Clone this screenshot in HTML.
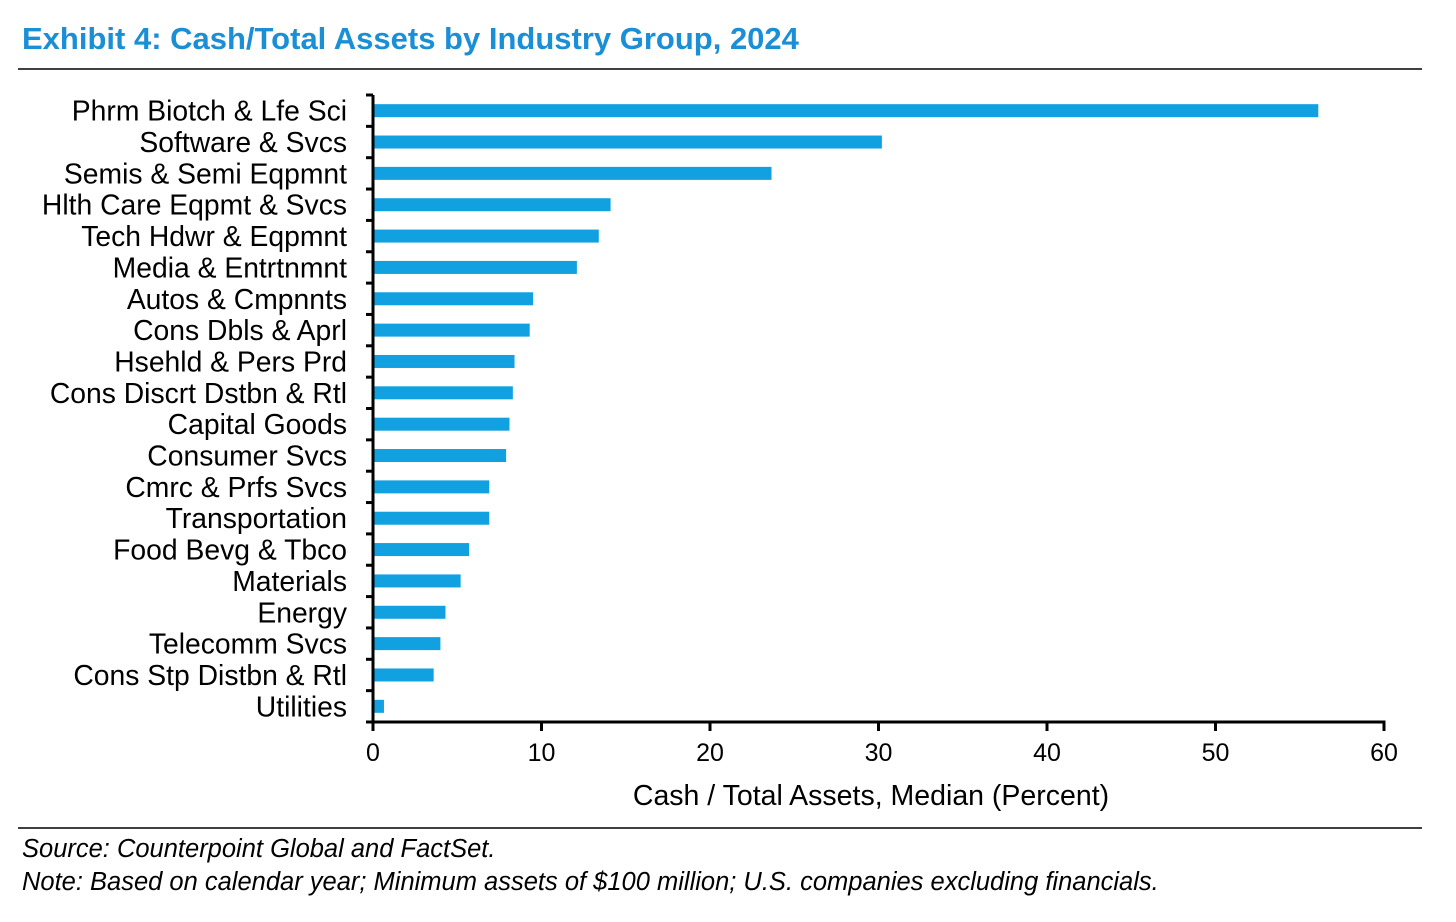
<!DOCTYPE html>
<html><head><meta charset="utf-8"><style>
body{margin:0;background:#fff;width:1456px;height:917px;overflow:hidden;font-family:"Liberation Sans",Arial,sans-serif}
</style></head><body>
<svg width="1456" height="917" xmlns="http://www.w3.org/2000/svg">
<text x="22" y="49" font-size="31" font-weight="bold" fill="#1a8fd6" font-family="Liberation Sans, sans-serif">Exhibit 4: Cash/Total Assets by Industry Group, 2024</text>
<line x1="18" y1="69" x2="1422" y2="69" stroke="#000" stroke-width="1.5"/>
<g id="plot"></g>
<text x="871" y="805" font-size="28.5" text-anchor="middle" font-family="Liberation Sans, sans-serif">Cash / Total Assets, Median (Percent)</text>
<line x1="18" y1="828" x2="1422" y2="828" stroke="#000" stroke-width="1.5"/>
<text x="22" y="857" font-size="25.5" font-style="italic" font-family="Liberation Sans, sans-serif">Source: Counterpoint Global and FactSet.</text>
<text x="22" y="890" font-size="25.5" font-style="italic" font-family="Liberation Sans, sans-serif">Note: Based on calendar year; Minimum assets of $100 million; U.S. companies excluding financials.</text>
</svg>
<script>
const categories=["Phrm Biotch & Lfe Sci","Software & Svcs","Semis & Semi Eqpmnt","Hlth Care Eqpmt & Svcs","Tech Hdwr & Eqpmnt","Media & Entrtnmnt","Autos & Cmpnnts","Cons Dbls & Aprl","Hsehld & Pers Prd","Cons Discrt Dstbn & Rtl","Capital Goods","Consumer Svcs","Cmrc & Prfs Svcs","Transportation","Food Bevg & Tbco","Materials","Energy","Telecomm Svcs","Cons Stp Distbn & Rtl","Utilities"];
const values=[56.1,30.2,23.65,14.1,13.4,12.1,9.5,9.3,8.4,8.3,8.1,7.9,6.9,6.9,5.7,5.2,4.3,4.0,3.6,0.65];
const xTicks=[0,10,20,30,40,50,60];
const NS="http://www.w3.org/2000/svg";
const g=document.getElementById('plot');
const x0=373,x1=1384,yTop=95,yBot=722;
const xs=v=>x0+(v-0)/(60-0)*(x1-x0);
const step=(yBot-yTop)/categories.length;
const yc=i=>yTop+step*(i+0.5);
function mk(t,a){const e=document.createElementNS(NS,t);for(const k in a)e.setAttribute(k,a[k]);g.appendChild(e);return e;}
categories.forEach((c,i)=>{
 const r=mk('rect',{x:x0,y:yc(i)-6.5,width:xs(values[i])-x0,height:13,fill:'#11a0e0'});
 
 
 const t=mk('text',{x:347,y:yc(i)+10,'font-size':28.3,'text-anchor':'end','font-family':'Liberation Sans, sans-serif'});
 t.textContent=c;
 
 
});
for(let i=0;i<=categories.length;i++){
 const l=mk('line',{x1:366,x2:x0,y1:yTop+step*i,y2:yTop+step*i,stroke:'#000','stroke-width':3});
 
 
}
xTicks.forEach(v=>{
 const l=mk('line',{x1:xs(v),x2:xs(v),y1:yBot,y2:yBot+9,stroke:'#000','stroke-width':3});
 
 
 const t=mk('text',{x:xs(v),y:761,'font-size':25,'text-anchor':'middle','font-family':'Liberation Sans, sans-serif'});
 t.textContent=v;
 
 
});
const ya=mk('line',{x1:x0,x2:x0,y1:yTop,y2:yBot+1.5,stroke:'#000','stroke-width':3});


const xa=mk('line',{x1:x0-1.5,x2:x1+1.5,y1:yBot,y2:yBot,stroke:'#000','stroke-width':3});


</script>
</body></html>
